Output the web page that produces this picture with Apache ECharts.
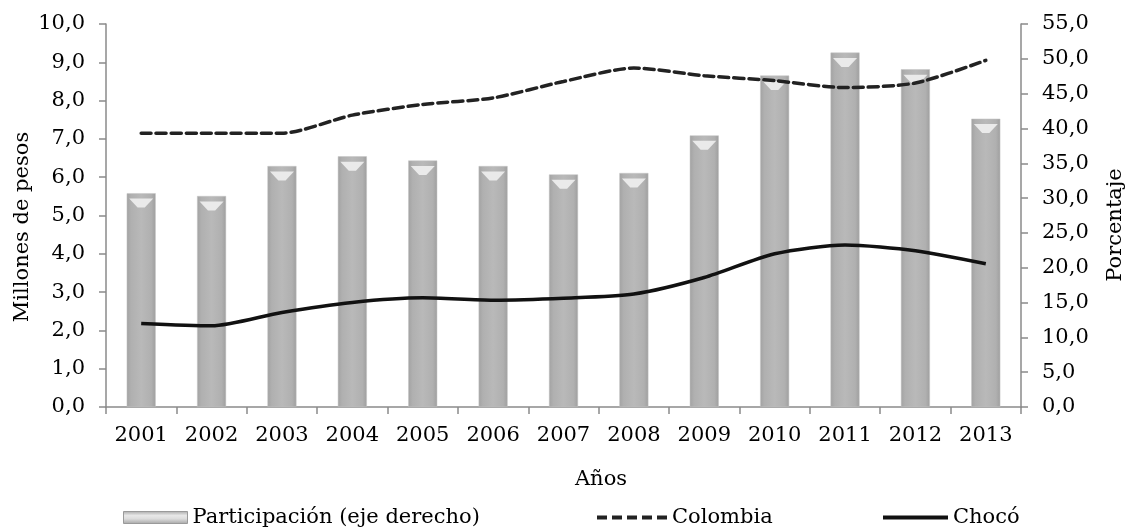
<!DOCTYPE html>
<html>
<head>
<meta charset="utf-8">
<script src="https://cdn.jsdelivr.net/npm/echarts@6/dist/echarts.min.js"></script>
<style>html,body{margin:0;padding:0;background:#fff}#c{width:1126px;height:531px}</style>
</head>
<body>
<div id="c"></div>
<script>
const years = ['2001','2002','2003','2004','2005','2006','2007','2008','2009','2010','2011','2012','2013'];
const participacion = [30.7, 30.3, 34.6, 36.0, 35.4, 34.6, 33.4, 33.6, 39.0, 47.6, 50.9, 48.5, 41.4];
const colombia = [7.15, 7.15, 7.15, 7.62, 7.9, 8.07, 8.5, 8.85, 8.65, 8.52, 8.34, 8.46, 9.05];
const choco = [2.18, 2.12, 2.47, 2.73, 2.85, 2.79, 2.84, 2.95, 3.38, 4.0, 4.23, 4.08, 3.74];
const xTitle = 'Años';
const yLeftTitle = 'Millones de pesos';
const yRightTitle = 'Porcentaje';

const FONT = 'DejaVu Serif';
const fmt = v => v.toFixed(1).replace('.', ',');
const axisGray = '#8a8a8a';
const txt = {fontFamily: FONT, fontSize: 21, color: '#000'};
const titleFont = '21px "DejaVu Serif"';

const barGrad = new echarts.graphic.LinearGradient(0, 0, 1, 0, [
  {offset: 0, color: '#a2a2a2'},
  {offset: 0.15, color: '#b0b0b0'},
  {offset: 0.5, color: '#b9b9b9'},
  {offset: 0.85, color: '#b0b0b0'},
  {offset: 1, color: '#9e9e9e'}
]);
const legendGrad = new echarts.graphic.LinearGradient(0, 0, 0, 1, [
  {offset: 0, color: '#a8a8a8'},
  {offset: 0.35, color: '#e8e8e8'},
  {offset: 0.6, color: '#dcdcdc'},
  {offset: 1, color: '#a4a4a4'}
]);
const dashIcon = 'path://M0,0h10v4h-10z M15,0h10v4h-10z M30,0h10v4h-10z M45,0h10v4h-10z M60,0h10v4h-10z';

const chart = echarts.init(document.getElementById('c'));
chart.setOption({
  animation: false,
  grid: {left: 106, right: 105, top: 24, bottom: 124},
  graphic: [
    {type: 'text', x: 601, y: 480, style: {text: xTitle, font: titleFont, fill: '#000', align: 'center', verticalAlign: 'middle'}},
    {type: 'text', x: 23, y: 227, rotation: Math.PI / 2, style: {text: yLeftTitle, font: titleFont, fill: '#000', align: 'center', verticalAlign: 'middle'}},
    {type: 'text', x: 1116, y: 225, rotation: Math.PI / 2, style: {text: yRightTitle, font: titleFont, fill: '#000', align: 'center', verticalAlign: 'middle'}}
  ],
  legend: [
    {data: [{name: 'Participación (eje derecho)', icon: 'rect', itemStyle: {color: legendGrad, borderColor: '#9a9a9a', borderWidth: 1}}],
     left: 123, top: 507, padding: 0, itemWidth: 64, itemHeight: 12, textStyle: txt},
    {data: [{name: 'Colombia', icon: dashIcon}], left: 597, top: 507, padding: 0, itemWidth: 70, itemHeight: 4, textStyle: txt,
     itemStyle: {color: '#222'}},
    {data: [{name: 'Chocó', icon: 'rect'}], left: 883, top: 507, padding: 0, itemWidth: 65, itemHeight: 4, textStyle: txt,
     itemStyle: {color: '#111'}}
  ],
  xAxis: {
    type: 'category', data: years, boundaryGap: true,
    axisLine: {lineStyle: {color: axisGray, width: 1.5}},
    axisTick: {show: true, length: 7, alignWithLabel: false, lineStyle: {color: axisGray, width: 1.5}},
    axisLabel: {...txt, margin: 18}
  },
  yAxis: [
    {
      type: 'value', min: 0, max: 10, interval: 1,
      axisLine: {show: true, lineStyle: {color: axisGray, width: 1.5}},
      axisTick: {show: true, length: 7, lineStyle: {color: axisGray, width: 1.5}},
      splitLine: {show: false},
      axisLabel: {...txt, margin: 21, formatter: fmt}
    },
    {
      type: 'value', min: 0, max: 55, interval: 5, position: 'right',
      axisLine: {show: true, lineStyle: {color: axisGray, width: 1.5}},
      axisTick: {show: true, length: 7, lineStyle: {color: axisGray, width: 1.5}},
      splitLine: {show: false},
      axisLabel: {...txt, margin: 21, formatter: fmt}
    }
  ],
  series: [
    {
      name: 'Participación (eje derecho)', type: 'bar', yAxisIndex: 1, data: participacion,
      barWidth: 29, itemStyle: {color: barGrad, borderColor: '#c4c4c4', borderWidth: 0.5}, z: 1
    },
    {
      name: 'capTop', type: 'pictorialBar', yAxisIndex: 1, data: participacion,
      symbol: 'path://M0,0 L10,0 L6.5,4 L3.5,4 Z', symbolSize: [24, 9], symbolPosition: 'end',
      symbolOffset: [0, '60%'], itemStyle: {color: '#efefef', opacity: 0.9}, z: 2, silent: true
    },
    {
      name: 'Colombia', type: 'line', yAxisIndex: 0, data: colombia, smooth: 0.25,
      symbol: 'none', lineStyle: {color: '#222', width: 3.5, type: [10, 5], cap: 'round'}, itemStyle: {color: '#222'}, z: 5
    },
    {
      name: 'Chocó', type: 'line', yAxisIndex: 0, data: choco, smooth: 0.25,
      symbol: 'none', lineStyle: {color: '#111', width: 3.5}, itemStyle: {color: '#111'}, z: 5
    }
  ]
});
</script>
</body>
</html>
